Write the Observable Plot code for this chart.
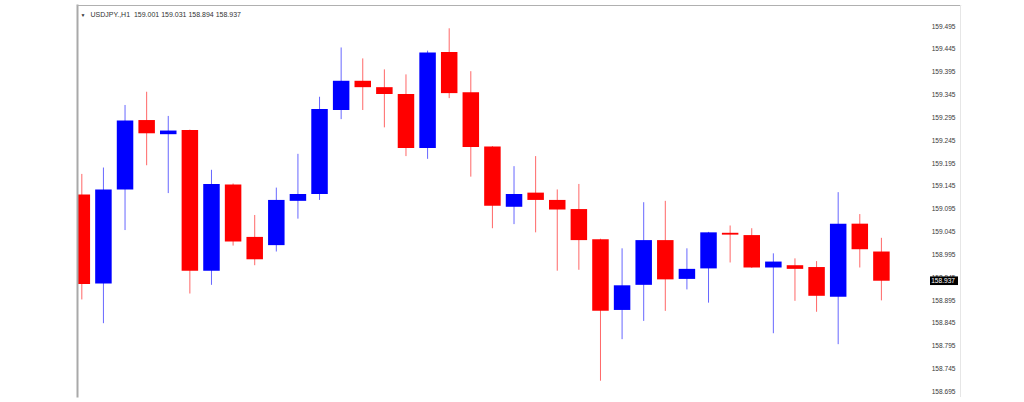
<!DOCTYPE html>
<html>
<head>
<meta charset="utf-8">
<script src="https://cdn.jsdelivr.net/npm/d3@7"></script>
<script src="https://cdn.jsdelivr.net/npm/@observablehq/plot@0.6"></script>
<style>
  html, body { margin: 0; padding: 0; background: #ffffff; }
  #chart { width: 1024px; height: 402px; }
</style>
</head>
<body>
<div id="chart"></div>
<script>
// ---- data ----
const symbolLabel = "USDJPY.,H1";
const openValues  = [159.126, 158.931, 159.137, 159.289, 159.258, 159.267, 158.959, 159.148, 159.033, 159.015, 159.112, 159.127, 159.311, 159.375, 159.361, 159.346, 159.228, 159.438, 159.350, 159.231, 159.099, 159.130, 159.114, 159.094, 159.028, 158.873, 158.928, 159.026, 158.941, 158.964, 159.042, 159.037, 158.966, 158.971, 158.967, 158.902, 159.062, 159.001];
const highValues  = [159.171, 159.185, 159.322, 159.351, 159.298, 159.268, 159.180, 159.150, 159.081, 159.141, 159.215, 159.340, 159.448, 159.424, 159.400, 159.389, 159.441, 159.490, 159.396, 159.232, 159.188, 159.210, 159.137, 159.149, 159.029, 159.008, 159.109, 159.112, 159.008, 159.044, 159.058, 159.052, 158.997, 158.986, 158.980, 159.131, 159.083, 159.031];
const lowValues   = [158.896, 158.844, 159.048, 159.190, 159.129, 158.909, 158.928, 159.014, 158.971, 159.001, 159.073, 159.114, 159.291, 159.311, 159.273, 159.210, 159.204, 159.337, 159.165, 159.052, 159.061, 159.043, 158.959, 158.961, 158.718, 158.809, 158.849, 158.871, 158.918, 158.889, 158.977, 158.965, 158.822, 158.893, 158.869, 158.798, 158.966, 158.894];
const closeValues = [158.930, 159.137, 159.288, 159.260, 159.266, 158.959, 159.149, 159.023, 158.984, 159.114, 159.127, 159.313, 159.375, 159.361, 159.346, 159.228, 159.437, 159.348, 159.230, 159.101, 159.127, 159.114, 159.093, 159.026, 158.871, 158.927, 159.026, 158.940, 158.963, 159.043, 159.038, 158.966, 158.979, 158.963, 158.904, 159.062, 159.006, 158.937];
const yTicks = [159.495, 159.445, 159.395, 159.345, 159.295, 159.245, 159.195, 159.145, 159.095, 159.045, 158.995, 158.945, 158.895, 158.845, 158.795, 158.745, 158.695];

// ---- build table ----
const candles = openValues.map((o, i) => ({
  i, open: o, high: highValues[i], low: lowValues[i], close: closeValues[i],
  up: closeValues[i] >= o
}));
const last = candles[candles.length - 1];
const header = `${symbolLabel}  ${last.open.toFixed(3)} ${last.high.toFixed(3)} ${last.low.toFixed(3)} ${last.close.toFixed(3)}`;

const UP = "#0000ff", DOWN = "#ff0000";
const FONT = "Liberation Sans, Arial, sans-serif";

const priceTag = (index, scales, values, dims) => {
  const y = scales.y(last.close);
  const xr = dims.width - dims.marginRight;
  const g = d3.create("svg:g");
  g.append("rect")
    .attr("x", xr - 30).attr("y", y - 4.3)
    .attr("width", 28).attr("height", 8.6)
    .attr("fill", "#000000");
  g.append("text")
    .attr("x", xr - 5).attr("y", y)
    .attr("dy", "0.35em")
    .attr("text-anchor", "end")
    .attr("fill", "#ffffff")
    .attr("font-family", FONT)
    .attr("font-size", 6.6)
    .text(last.close.toFixed(3));
  return g.node();
};

const chart = Plot.plot({
  width: 1024,
  height: 402,
  marginLeft: 77,
  marginRight: 64,
  marginTop: 5,
  marginBottom: 6,
  style: { background: "#ffffff", fontFamily: FONT },
  x: { type: "linear", domain: [-0.2, 40.66], axis: null },
  y: { domain: [158.6845, 159.541], axis: null },
  marks: [
    // wicks
    Plot.ruleX(candles, {
      x: "i", y1: "low", y2: "high",
      stroke: d => d.up ? UP : DOWN,
      strokeWidth: 1, strokeOpacity: 0.6, clip: true
    }),
    // bodies
    Plot.ruleX(candles, {
      x: "i", y1: "open", y2: "close",
      stroke: d => d.up ? UP : DOWN,
      strokeWidth: 16.5, strokeLinecap: "butt", clip: true
    }),
    // price scale labels
    Plot.text(yTicks, {
      y: d => d, text: d => d.toFixed(3),
      frameAnchor: "right", textAnchor: "end", dx: -5,
      fontSize: 6.6, fill: "#3a3a3a"
    }),
    // current price tag
    priceTag,
    // header
    Plot.text(["\u25BC"], {
      frameAnchor: "top-left", dx: 5.5, dy: 9.5, text: d => d,
      lineAnchor: "middle", textAnchor: "middle", fontSize: 5, fill: "#333"
    }),
    Plot.text([header], {
      frameAnchor: "top-left", dx: 13, dy: 9.5, text: d => d,
      lineAnchor: "middle", textAnchor: "start", fontSize: 7, fill: "#333"
    }),
    // chart window borders
    Plot.frame({ anchor: "left", stroke: "#a9a9a9", strokeWidth: 2 }),
    Plot.frame({ anchor: "top", stroke: "#b0b0b0", strokeWidth: 1.2 }),
    Plot.frame({ anchor: "right", stroke: "#e6e6e6", strokeWidth: 1 })
  ]
});
document.getElementById("chart").appendChild(chart);
</script>
</body>
</html>
